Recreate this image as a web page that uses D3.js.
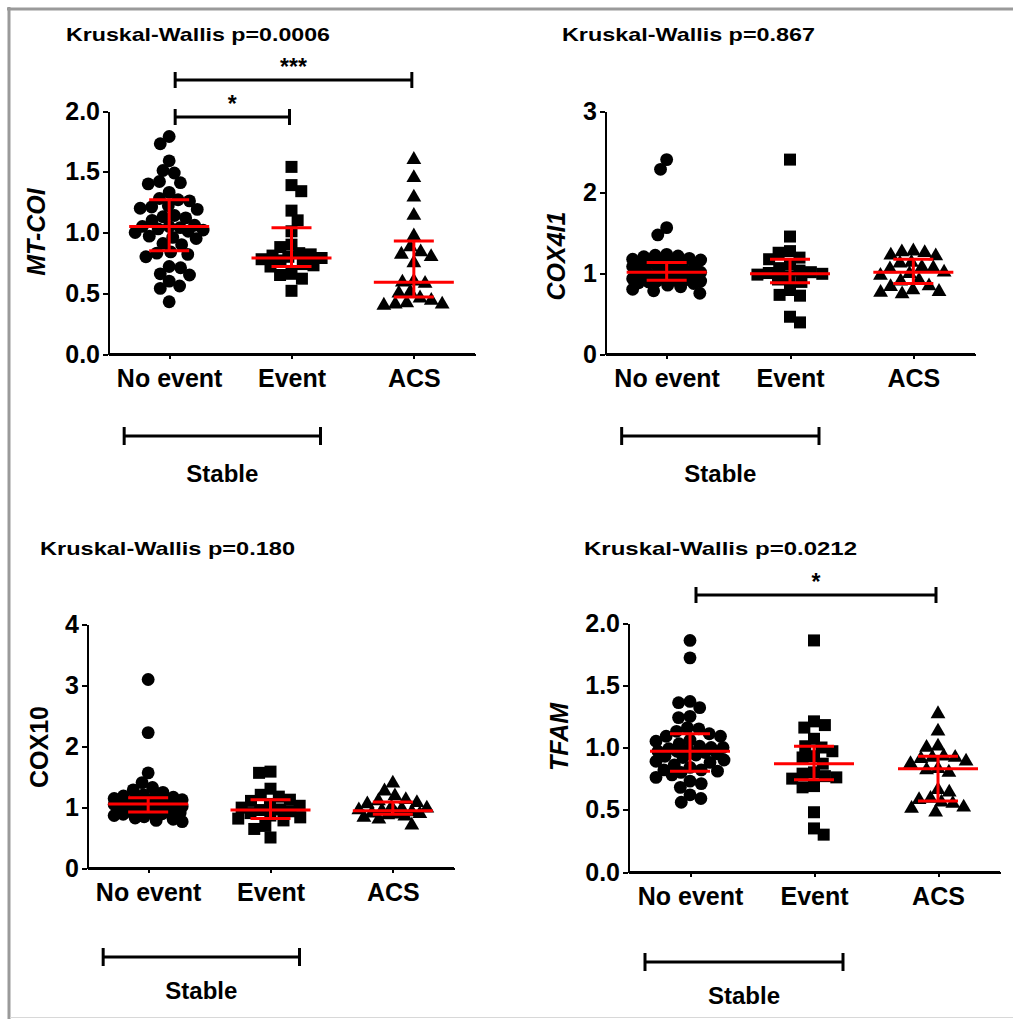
<!DOCTYPE html>
<html>
<head>
  <meta charset="utf-8">
  <title>Scatter dot plots</title>
  <script src="https://cdn.jsdelivr.net/npm/d3@7"></script>
  <style>
    body { margin: 0; background: #ffffff; }
    text { font-family: "Liberation Sans", Arial, sans-serif; font-weight: bold; fill: #000; }
    .axis path, .axis line { stroke: #000; stroke-width: 2px; shape-rendering: crispEdges; }
    .axis text { font-size: 25px; font-weight: bold; }
  </style>
</head>
<body>
  <svg width="1013" height="1019" id="mainsvg"></svg>
  <script>
    const groups = ["No event", "Event", "ACS"];

    // MT-COI
    const mtcoiNoEvent = [1.79, 1.73, 1.59, 1.51, 1.49, 1.42, 1.41, 1.40, 1.33, 1.28, 1.27, 1.26, 1.22, 1.21, 1.20,
      1.19, 1.14, 1.13, 1.12, 1.10, 1.06, 1.05, 1.05, 1.04, 1.03, 1.02, 1.01, 1.00, 0.97, 0.96, 0.95, 0.91, 0.90,
      0.84, 0.83, 0.82, 0.80, 0.72, 0.71, 0.66, 0.65, 0.60, 0.56, 0.54, 0.43];
    const mtcoiEvent = [1.54, 1.39, 1.34, 1.18, 1.10, 1.01, 0.90, 0.88, 0.83, 0.82, 0.81, 0.80, 0.79, 0.78, 0.77,
      0.74, 0.73, 0.72, 0.66, 0.65, 0.62, 0.52];
    const mtcoiAcs = [1.60, 1.45, 1.29, 1.14, 0.97, 0.88, 0.84, 0.82, 0.80, 0.75, 0.60, 0.59, 0.58, 0.51, 0.50,
      0.46, 0.44, 0.42, 0.41, 0.41, 0.40];
    const mtcoiMedian = [1.05, 0.79, 0.59];
    const mtcoiQ1 = [0.85, 0.72, 0.47];
    const mtcoiQ3 = [1.27, 1.04, 0.93];

    // COX4I1
    const cox4NoEvent = [2.40, 2.28, 1.56, 1.47, 1.23, 1.22, 1.21, 1.20, 1.18, 1.17, 1.16, 1.15, 1.14, 1.13, 1.12,
      1.12, 1.11, 1.10, 1.08, 1.06, 1.05, 1.03, 1.02, 1.01, 1.00, 1.00, 0.99, 0.98, 0.97, 0.96, 0.95, 0.94, 0.93,
      0.92, 0.91, 0.90, 0.90, 0.89, 0.88, 0.87, 0.85, 0.83, 0.80, 0.78, 0.75];
    const cox4Event = [2.40, 1.45, 1.27, 1.25, 1.19, 1.17, 1.11, 1.06, 1.03, 1.01, 1.00, 0.99, 0.98, 0.96, 0.92,
      0.89, 0.79, 0.73, 0.72, 0.46, 0.39];
    const cox4Acs = [1.27, 1.26, 1.25, 1.22, 1.21, 1.13, 1.12, 1.07, 1.06, 1.05, 1.01, 0.99, 0.97, 0.91, 0.90,
      0.84, 0.83, 0.79, 0.77, 0.76, 0.74];
    const cox4Median = [1.01, 0.99, 1.01];
    const cox4Q1 = [0.91, 0.88, 0.87];
    const cox4Q3 = [1.13, 1.17, 1.17];

    // COX10
    const cox10NoEvent = [3.09, 2.22, 1.56, 1.40, 1.32, 1.28, 1.24, 1.20, 1.18, 1.16, 1.15, 1.14, 1.13, 1.12, 1.10,
      1.09, 1.08, 1.07, 1.06, 1.06, 1.05, 1.05, 1.04, 1.03, 1.02, 1.01, 1.00, 0.99, 0.98, 0.97, 0.96, 0.95, 0.94,
      0.93, 0.92, 0.91, 0.90, 0.89, 0.88, 0.86, 0.84, 0.82, 0.80, 0.78, 0.76];
    const cox10Event = [1.58, 1.56, 1.30, 1.20, 1.17, 1.12, 1.10, 1.05, 1.02, 0.99, 0.96, 0.95, 0.93, 0.90, 0.86,
      0.83, 0.81, 0.78, 0.69, 0.64, 0.50];
    const cox10Acs = [1.39, 1.26, 1.18, 1.12, 1.10, 1.07, 1.05, 1.00, 0.98, 0.97, 0.95, 0.94, 0.92, 0.90, 0.89,
      0.88, 0.87, 0.85, 0.83, 0.80, 0.70];
    const cox10Median = [1.05, 0.95, 0.94];
    const cox10Q1 = [0.92, 0.81, 0.88];
    const cox10Q3 = [1.15, 1.12, 1.08];

    // TFAM
    const tfamNoEvent = [1.86, 1.72, 1.37, 1.36, 1.32, 1.25, 1.24, 1.16, 1.15, 1.13, 1.11, 1.09, 1.09, 1.06, 1.05,
      1.03, 1.01, 1.00, 1.00, 0.99, 0.98, 0.97, 0.97, 0.96, 0.95, 0.94, 0.93, 0.92, 0.90, 0.89, 0.88, 0.86, 0.84,
      0.82, 0.82, 0.81, 0.80, 0.78, 0.76, 0.73, 0.71, 0.68, 0.62, 0.59, 0.56];
    const tfamEvent = [1.86, 1.21, 1.18, 1.16, 1.07, 1.01, 1.00, 0.97, 0.93, 0.92, 0.87, 0.80, 0.79, 0.77, 0.76,
      0.75, 0.69, 0.68, 0.48, 0.35, 0.30];
    const tfamAcs = [1.27, 1.13, 1.01, 1.00, 0.93, 0.92, 0.92, 0.91, 0.89, 0.87, 0.83, 0.82, 0.80, 0.66, 0.64,
      0.59, 0.58, 0.56, 0.55, 0.52, 0.51, 0.48];
    const tfamMedian = [0.97, 0.87, 0.83];
    const tfamQ1 = [0.81, 0.74, 0.57];
    const tfamQ3 = [1.11, 1.01, 0.93];

    const titles = ["Kruskal-Wallis p=0.0006", "Kruskal-Wallis p=0.867", "Kruskal-Wallis p=0.180", "Kruskal-Wallis p=0.0212"];
    const genes = ["MT-COI", "COX4I1", "COX10", "TFAM"];
    const yTicks1 = [0, 0.5, 1.0, 1.5, 2.0];
    const yTicks2 = [0, 1, 2, 3];
    const yTicks3 = [0, 1, 2, 3, 4];
    const yTicks4 = [0, 0.5, 1.0, 1.5, 2.0];

    const panels = [
      { gene: genes[0], title: titles[0], series: [mtcoiNoEvent, mtcoiEvent, mtcoiAcs], med: mtcoiMedian, q1: mtcoiQ1, q3: mtcoiQ3,
        ticks: yTicks1, fmt: ".1f", italic: true,
        left: 108, right: 475, top: 111, bottom: 354, labelX: 37, labelY: 232, titleX: 66, titleY: 41, titleW: 264,
        stableY: 436, stableLabelY: 482,
        sig: [{ a: 0, b: 2, y: 80, star: "***" }, { a: 0, b: 1, y: 117, star: "*" }] },
      { gene: genes[1], title: titles[1], series: [cox4NoEvent, cox4Event, cox4Acs], med: cox4Median, q1: cox4Q1, q3: cox4Q3,
        ticks: yTicks2, fmt: "d", italic: true,
        left: 605, right: 975, top: 111, bottom: 354, labelX: 557, labelY: 256, titleX: 562, titleY: 41, titleW: 253,
        stableY: 436, stableLabelY: 482, sig: [] },
      { gene: genes[2], title: titles[2], series: [cox10NoEvent, cox10Event, cox10Acs], med: cox10Median, q1: cox10Q1, q3: cox10Q3,
        ticks: yTicks3, fmt: "d", italic: false,
        left: 87, right: 454, top: 624, bottom: 868, labelX: 40, labelY: 747, titleX: 40, titleY: 555, titleW: 255,
        stableY: 957, stableLabelY: 999, sig: [] },
      { gene: genes[3], title: titles[3], series: [tfamNoEvent, tfamEvent, tfamAcs], med: tfamMedian, q1: tfamQ1, q3: tfamQ3,
        ticks: yTicks4, fmt: ".1f", italic: true,
        left: 628, right: 1000, top: 623, bottom: 872, labelX: 560, labelY: 737, titleX: 584, titleY: 555, titleW: 273,
        stableY: 962, stableLabelY: 1004,
        sig: [{ a: 0, b: 2, y: 595, star: "*" }] }
    ];

    const symbols = [d3.symbolCircle, d3.symbolSquare, d3.symbolTriangle];
    const symbolSizes = [130, 144, 95];

    const svg = d3.select('#mainsvg');

    // page frame
    svg.append("line").attr("x1", 9).attr("x2", 9).attr("y1", 7).attr("y2", 1019)
      .attr("stroke", "#9a9a9a").attr("stroke-width", 3);
    svg.append("line").attr("x1", 7).attr("x2", 1013).attr("y1", 9).attr("y2", 9)
      .attr("stroke", "#9a9a9a").attr("stroke-width", 3);
    svg.append("line").attr("x1", 10).attr("x2", 1013).attr("y1", 1017.5).attr("y2", 1017.5)
      .attr("stroke", "#d8d8d8").attr("stroke-width", 1);

    // beeswarm kept inside +-maxW: points overlap once a row is full
    const swarm = function (vals, y, d, maxW) {
      const pts = vals.map(v => ({ v: v, y: y(v), x: 0 }));
      const order = pts.slice().sort((a, b) => a.y - b.y);
      const placed = [];
      order.forEach((p, i) => {
        const cands = [0];
        placed.forEach(q => {
          const dy = Math.abs(q.y - p.y);
          if (dy < d) {
            const dx = Math.sqrt(d * d - dy * dy);
            cands.push(q.x + dx, q.x - dx);
          }
        });
        const flip = i % 2 ? 1 : -1;
        const ok = cands.filter(c => Math.abs(c) <= maxW + 0.01)
          .sort((a, b) => (Math.abs(a) - Math.abs(b)) || (a - b) * flip);
        let found = false;
        for (const c of ok) {
          if (placed.every(q => (q.x - c) ** 2 + (q.y - p.y) ** 2 >= d * d - 0.01)) { p.x = c; found = true; break; }
        }
        if (!found) {
          let best = 0, bestD = -1;
          for (let c = -maxW; c <= maxW; c += 1) {
            const md = d3.min(placed, q => (q.x - c) ** 2 + (q.y - p.y) ** 2);
            if (md > bestD + 0.5 || (Math.abs(md - bestD) <= 0.5 && Math.abs(c) < Math.abs(best))) { bestD = md; best = c; }
          }
          p.x = best;
        }
        placed.push(p);
      });
      return pts;
    };

    panels.forEach(p => {
      const g = svg.append("g");
      const yScale = d3.scaleLinear()
        .domain([0, d3.max(p.ticks)])
        .range([p.bottom, p.top]);
      const xScale = d3.scalePoint()
        .domain(groups)
        .range([p.left, p.right])
        .padding(0.5);

      // title
      g.append("text")
        .attr("x", p.titleX).attr("y", p.titleY)
        .attr("textLength", p.titleW).attr("lengthAdjust", "spacingAndGlyphs")
        .style("font-size", "19px")
        .text(p.title);

      // axes
      g.append("g").attr("class", "axis")
        .attr("transform", `translate(${p.left},0)`)
        .call(d3.axisLeft(yScale).tickValues(p.ticks).tickSize(5).tickSizeOuter(0).tickPadding(3)
          .tickFormat(d3.format(p.fmt)));
      g.append("g").attr("class", "axis")
        .attr("transform", `translate(0,${p.bottom})`)
        .call(d3.axisBottom(xScale).tickSize(5).tickSizeOuter(0).tickPadding(10));
      g.append("line")
        .attr("x1", p.left).attr("x2", p.right)
        .attr("y1", p.bottom).attr("y2", p.bottom)
        .attr("stroke", "#000").attr("stroke-width", 2);

      // y axis label
      g.append("text")
        .attr("transform", `translate(${p.labelX + 8},${p.labelY}) rotate(-90)`)
        .attr("text-anchor", "middle")
        .style("font-size", "25px")
        .style("font-style", p.italic ? "italic" : "normal")
        .text(p.gene);

      // points
      p.series.forEach((vals, i) => {
        const cx = xScale(groups[i]);
        const pts = swarm(vals, yScale, 11.5, 34);
        g.selectAll(null)
          .data(pts)
          .enter()
          .append("path")
          .attr("d", d3.symbol().type(symbols[i]).size(symbolSizes[i]))
          .attr("transform", d => `translate(${cx + d.x},${d.y})`)
          .attr("fill", "#000");
      });

      // median + interquartile range
      groups.forEach((grp, i) => {
        const cx = xScale(grp);
        const red = g.append("g").attr("stroke", "#ff0000").attr("stroke-width", 3);
        red.append("line").attr("x1", cx - 40).attr("x2", cx + 40)
          .attr("y1", yScale(p.med[i])).attr("y2", yScale(p.med[i]));
        red.append("line").attr("x1", cx - 20).attr("x2", cx + 20)
          .attr("y1", yScale(p.q1[i])).attr("y2", yScale(p.q1[i]));
        red.append("line").attr("x1", cx - 20).attr("x2", cx + 20)
          .attr("y1", yScale(p.q3[i])).attr("y2", yScale(p.q3[i]));
        red.append("line").attr("x1", cx).attr("x2", cx)
          .attr("y1", yScale(p.q1[i])).attr("y2", yScale(p.q3[i]));
      });

      // significance brackets
      p.sig.forEach(s => {
        const x1 = xScale(groups[s.a]) + 6;
        const x2 = xScale(groups[s.b]) - 2;
        const b = g.append("g").attr("stroke", "#000").attr("stroke-width", 3);
        b.append("line").attr("x1", x1).attr("x2", x2).attr("y1", s.y).attr("y2", s.y);
        b.append("line").attr("x1", x1).attr("x2", x1).attr("y1", s.y - 8).attr("y2", s.y + 8);
        b.append("line").attr("x1", x2).attr("x2", x2).attr("y1", s.y - 8).attr("y2", s.y + 8);
        g.append("text")
          .attr("x", (x1 + x2) / 2).attr("y", s.y - 5)
          .attr("text-anchor", "middle")
          .style("font-size", "23px")
          .text(s.star);
      });

      // "Stable" bracket under No event + Event
      const s1 = xScale(groups[0]) - 45;
      const s2 = xScale(groups[1]) + 29;
      const st = g.append("g").attr("stroke", "#000").attr("stroke-width", 3);
      st.append("line").attr("x1", s1).attr("x2", s2).attr("y1", p.stableY).attr("y2", p.stableY);
      st.append("line").attr("x1", s1).attr("x2", s1).attr("y1", p.stableY - 9).attr("y2", p.stableY + 9);
      st.append("line").attr("x1", s2).attr("x2", s2).attr("y1", p.stableY - 9).attr("y2", p.stableY + 9);
      g.append("text")
        .attr("x", (s1 + s2) / 2).attr("y", p.stableLabelY)
        .attr("text-anchor", "middle")
        .style("font-size", "24px")
        .text("Stable");
    });
  </script>
</body>
</html>
